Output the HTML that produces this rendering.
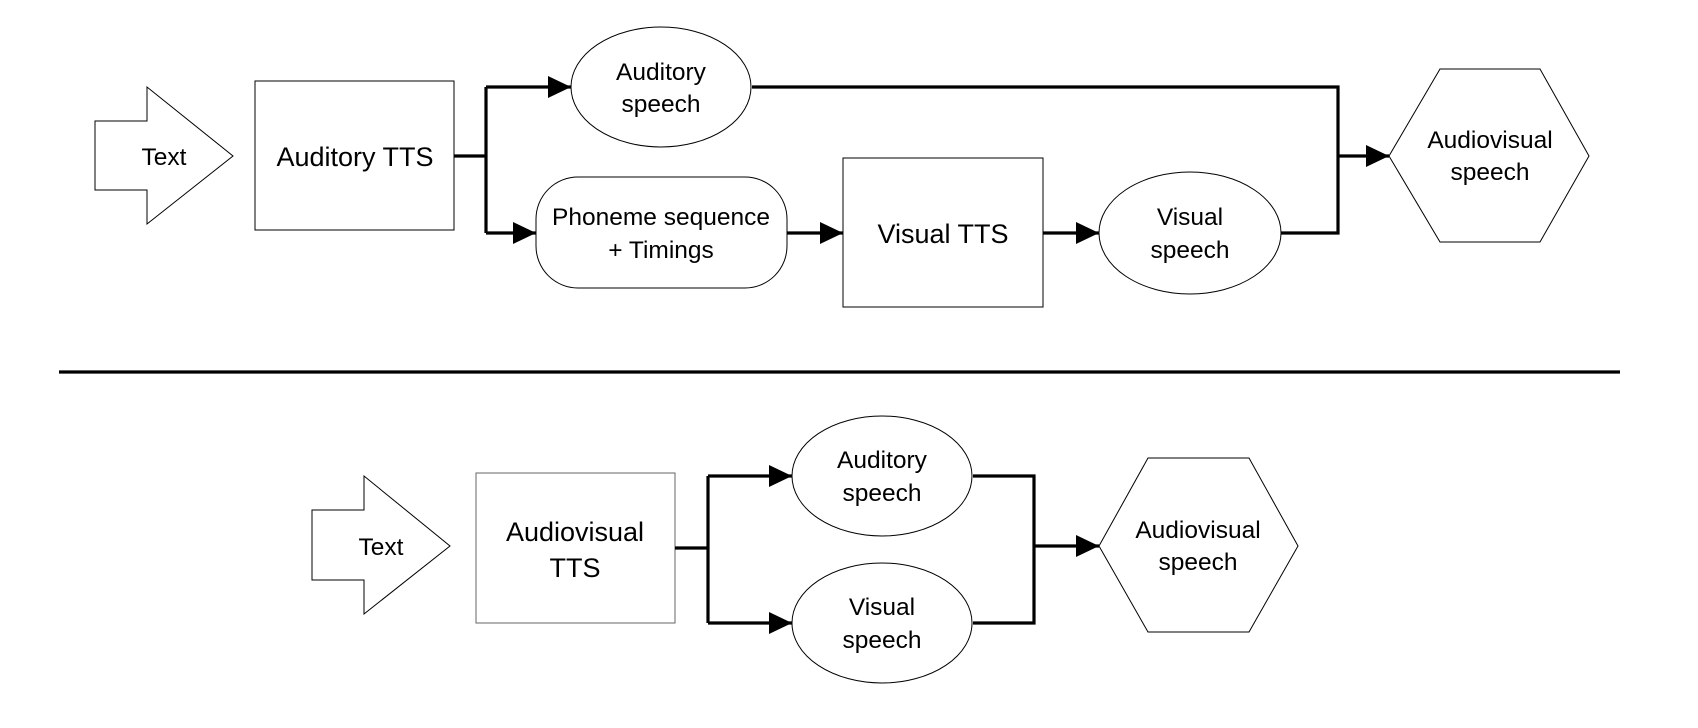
<!DOCTYPE html>
<html><head><meta charset="utf-8"><style>
html,body{margin:0;padding:0;background:#fff;}
svg{display:block;}
text{font-family:"Liberation Sans",sans-serif;fill:#000;text-anchor:middle;}
</style></head><body>
<svg width="1698" height="728" viewBox="0 0 1698 728" xmlns="http://www.w3.org/2000/svg">
<defs>
<marker id="ah" markerWidth="23" markerHeight="22" refX="23" refY="11" orient="auto" markerUnits="userSpaceOnUse">
<path d="M0,0 L23,11 L0,22 Z" fill="#000"/>
</marker>
</defs>
<g fill="#fff" stroke="#000" stroke-width="1">
<polygon points="95,121 147,121 147,87 233,156 147,224 147,190 95,190"/>
<rect x="255" y="81" width="199" height="149"/>
<ellipse cx="661" cy="87" rx="90" ry="60"/>
<rect x="536" y="177" width="251" height="111" rx="42" ry="42"/>
<rect x="843" y="158" width="200" height="149"/>
<ellipse cx="1190" cy="233" rx="91" ry="61"/>
<polygon points="1389,156 1440,69 1540,69 1589,156 1540,242 1440,242"/>
<polygon points="312,510 364,510 364,476 450,546 364,614 364,580 312,580"/>
<rect x="476" y="473" width="199" height="150" stroke="#666"/>
<ellipse cx="882" cy="476" rx="90" ry="60"/>
<ellipse cx="882" cy="623" rx="90" ry="60"/>
<polygon points="1099,546 1148,458 1249,458 1298,546 1249,632 1148,632"/>
</g>
<g fill="none" stroke="#000" stroke-width="3.2">
<path d="M454,156 H486 M486,87 V233"/>
<path d="M486,87 H571" marker-end="url(#ah)"/>
<path d="M486,233 H536" marker-end="url(#ah)"/>
<path d="M787,233 H843" marker-end="url(#ah)"/>
<path d="M1043,233 H1099" marker-end="url(#ah)"/>
<path d="M752,87 H1338 V233 H1281"/>
<path d="M1338,156 H1389" marker-end="url(#ah)"/>
<path d="M59,372 H1620"/>
<path d="M675,548 H708 M708,476 V623"/>
<path d="M708,476 H792" marker-end="url(#ah)"/>
<path d="M708,623 H792" marker-end="url(#ah)"/>
<path d="M973,476 H1034 V623 H973"/>
<path d="M1034,546 H1099" marker-end="url(#ah)"/>
</g>
<g font-size="24.5">
<text x="164" y="165">Text</text>
<text x="355" y="166" font-size="27">Auditory TTS</text>
<text x="661" y="80">Auditory</text>
<text x="661" y="112">speech</text>
<text x="661" y="225">Phoneme sequence</text>
<text x="661" y="258">+ Timings</text>
<text x="943" y="243" font-size="27">Visual TTS</text>
<text x="1190" y="225">Visual</text>
<text x="1190" y="258">speech</text>
<text x="1490" y="148">Audiovisual</text>
<text x="1490" y="180">speech</text>
<text x="381" y="555">Text</text>
<text x="575" y="541" font-size="27">Audiovisual</text>
<text x="575" y="577" font-size="27">TTS</text>
<text x="882" y="468">Auditory</text>
<text x="882" y="501">speech</text>
<text x="882" y="615">Visual</text>
<text x="882" y="648">speech</text>
<text x="1198" y="538">Audiovisual</text>
<text x="1198" y="570">speech</text>
</g>
</svg>
</body></html>
